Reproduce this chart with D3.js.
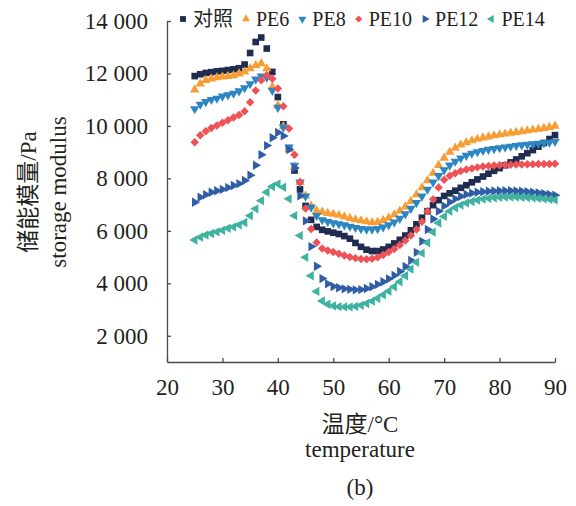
<!DOCTYPE html>
<html>
<head>
<meta charset="utf-8">
<script src="https://cdn.jsdelivr.net/npm/d3@7"></script>
<style>
body{margin:0;background:#fff;}
</style>
</head>
<body>
<svg id="chart" width="576" height="506"></svg>
<script>
//storage modulus vs temperature - scatter chart

//data, one value per degree
const temps = [25,26,27,28,29,30,31,32,33,34,35,36,37,38,39,40,41,42,43,44,45,46,47,48,49,50,51,52,53,54,55,56,57,58,59,60,
  61,62,63,64,65,66,67,68,69,70,71,72,73,74,75,76,77,78,79,80,81,82,83,84,85,86,87,88,89,90];

const control = [11900,11970,12020,12050,12080,12100,12130,12160,12200,12340,
  12780,13200,13370,12950,12060,11100,10060,9150,8300,7580,
  6950,6420,6150,6040,5980,5930,5880,5800,5700,5540,
  5390,5280,5230,5230,5290,5390,5520,5660,5820,6020,
  6250,6500,6750,6980,7170,7330,7430,7530,7640,7740,
  7850,7960,8070,8180,8290,8390,8500,8610,8720,8840,
  8960,9080,9210,9350,9500,9650];

const pe6 = [11380,11610,11740,11800,11840,11870,11890,11920,11990,12060,
  12190,12310,12380,12190,11490,10780,9980,9100,8450,7850,
  7340,6950,6770,6720,6670,6640,6600,6540,6480,6430,
  6390,6350,6320,6330,6400,6500,6620,6760,6920,7130,
  7380,7650,7920,8200,8500,8780,9000,9160,9280,9370,
  9440,9500,9550,9590,9630,9670,9700,9730,9760,9790,
  9820,9850,9880,9910,9950,10000];

const pe8 = [10650,10820,10920,11000,11050,11130,11180,11240,11330,11450,
  11600,11780,11900,11850,11350,10700,9950,9190,8490,7850,
  7320,6900,6580,6420,6350,6300,6260,6220,6170,6120,
  6080,6060,6060,6080,6140,6220,6330,6470,6640,6850,
  7070,7320,7580,7850,8100,8320,8500,8650,8770,8870,
  8950,9010,9060,9100,9130,9160,9190,9220,9250,9270,
  9290,9310,9330,9350,9370,9400];

const pe10 = [9380,9640,9800,9920,10020,10120,10220,10320,10420,10560,
  10900,11350,11740,11930,11800,11430,10750,9900,8900,7850,
  6850,6070,5560,5330,5250,5190,5130,5060,5000,4960,
  4930,4920,4940,4990,5080,5190,5310,5460,5630,5820,
  6050,6350,6750,7200,7650,7950,8100,8200,8280,8340,
  8380,8420,8450,8470,8490,8500,8510,8520,8530,8530,
  8540,8540,8550,8550,8550,8560];

const pe12 = [7090,7280,7380,7470,7530,7580,7650,7730,7800,7920,
  8120,8500,8900,9250,9550,9750,9620,9100,8400,7340,
  6380,5400,4650,4180,3980,3880,3830,3790,3770,3750,
  3760,3800,3870,3960,4060,4170,4300,4450,4640,4870,
  5180,5600,6050,6450,6750,6950,7100,7220,7320,7390,
  7440,7470,7490,7510,7520,7530,7530,7530,7520,7510,
  7490,7470,7450,7420,7390,7360];

const pe14 = [5650,5760,5840,5900,5960,6020,6100,6150,6230,6320,
  6580,6840,7150,7470,7690,7790,7660,7220,6580,5820,
  4990,4290,3690,3330,3200,3140,3110,3100,3100,3120,
  3160,3230,3320,3430,3560,3700,3870,4060,4290,4540,
  4800,5150,5550,5950,6300,6550,6750,6880,6980,7060,
  7120,7170,7210,7240,7260,7280,7290,7290,7290,7280,
  7270,7260,7240,7220,7200,7180];

const seriesNames = ["对照", "PE6", "PE8", "PE10", "PE12", "PE14"];
const seriesValues = [control, pe6, pe8, pe10, pe12, pe14];

const xTicks = [20, 30, 40, 50, 60, 70, 80, 90];
const yTicks = [2000, 4000, 6000, 8000, 10000, 12000, 14000];

//styles for each series: colour, symbol, rotation, size
const colors = ["#1f2c4f", "#f89c34", "#2b86c2", "#ee5257", "#2f5da6", "#40b2a0"];
const shapes = [d3.symbolSquare, d3.symbolTriangle, d3.symbolTriangle, d3.symbolSquare, d3.symbolTriangle, d3.symbolTriangle];
const turns = [0, 0, 180, 45, 90, -90];
const sizes = [44, 38, 38, 36, 38, 38];

const serif = '"Liberation Serif", "Times New Roman", "Noto Sans CJK SC", serif';

const svg = d3.select("#chart");

//scales
const x = d3.scaleLinear().domain([20, 90]).range([167, 555]);
const y = d3.scaleLinear().domain([1000, 14000]).range([362, 21]);

//number format with a space for thousands
const fmt = d3.formatLocale({decimal: ".", thousands: " ", grouping: [3], currency: ["", ""]}).format(",");

//x-axis
svg.append("g")
  .attr("class", "x-axis")
  .attr("transform", `translate(0, ${y(1000)})`)
  .call(d3.axisBottom(x).tickValues(xTicks).tickSizeInner(-4).tickSizeOuter(0).tickPadding(17));

//y-axis
svg.append("g")
  .attr("class", "y-axis")
  .attr("transform", `translate(${x(20)}, 0)`)
  .call(d3.axisLeft(y).tickValues(yTicks).tickFormat(fmt).tickSizeInner(-4).tickSizeOuter(0).tickPadding(19));

svg.selectAll(".x-axis, .y-axis").attr("font-family", null).attr("font-size", null);
svg.selectAll(".domain, .tick line").attr("stroke", "#4a4a4a").attr("stroke-width", 1.3);
svg.selectAll(".tick text")
   .style("font-family", serif)
   .style("font-size", "23px")
   .attr("fill", "#231f20");

//points
seriesValues.forEach((vals, s) => {
  const sym = d3.symbol().type(shapes[s]).size(sizes[s]);
  svg.append("g")
     .selectAll("path")
     .data(temps.map((t, i) => ({t, v: vals[i]})))
     .enter().append("path")
     .attr("d", sym)
     .attr("fill", colors[s])
     .attr("transform", d => `translate(${x(d.t)}, ${y(d.v)}) rotate(${turns[s]})`);
});

//legend
let lx = 183;
seriesNames.forEach((name, s) => {
  svg.append("path")
     .attr("d", d3.symbol().type(shapes[s]).size(sizes[s] - 10))
     .attr("fill", colors[s])
     .attr("transform", `translate(${lx}, 19) rotate(${turns[s]})`);
  const label = svg.append("text")
     .attr("x", lx + 10)
     .attr("y", 26)
     .style("font-family", serif)
     .style("font-size", "20px")
     .attr("fill", "#231f20")
     .text(name);
  lx += 10 + label.node().getComputedTextLength() + 13;
});

//axis titles
function title(txt, tf){
  svg.append("text")
     .attr("transform", tf)
     .attr("text-anchor", "middle")
     .style("font-family", serif)
     .style("font-size", "23px")
     .attr("fill", "#231f20")
     .text(txt);
}
title("温度/°C", "translate(360, 432)");
title("temperature", "translate(360, 457)");
title("(b)", "translate(360, 495)");
title("储能模量/Pa", "translate(36, 192) rotate(-90)");
title("storage modulus", "translate(66, 192) rotate(-90)");
</script>
</body>
</html>
